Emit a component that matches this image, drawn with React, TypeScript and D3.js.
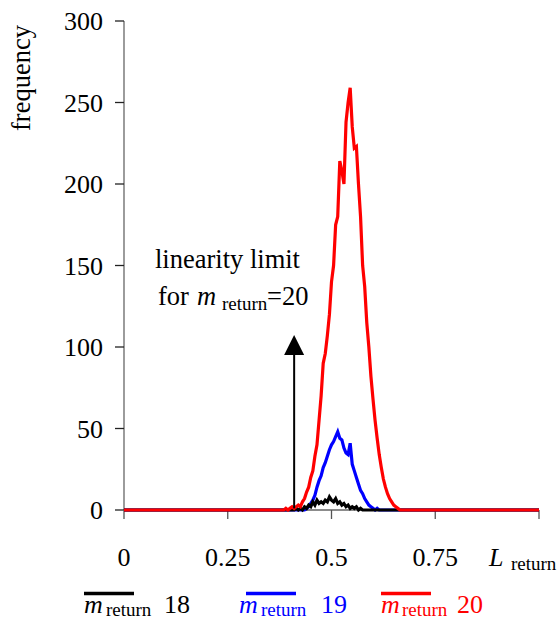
import React from "react";
import * as d3 from "d3";

const L_START = 0.385;
const L_STEP = 0.005;

const redValues = [
  0, 1, 0, 1, 2, 1, 2, 3, 2, 5, 7, 11, 14, 20, 24, 33, 40, 55, 70, 90, 96, 107, 120, 140, 150,
  175, 180, 214, 208, 200, 238, 250, 259, 235, 222, 223, 200, 180, 150, 137, 115, 100, 82, 68, 55,
  44, 34, 26, 19, 14, 10, 7, 5, 3, 2, 1, 0,
];

const BLUE_START = 0.435;
const blueValues = [
  0, 1, 2, 4, 6, 9, 14, 18, 21, 26, 29, 33, 37, 40, 42, 45, 48, 44, 43, 38, 35, 34, 41, 28, 24,
  20, 16, 12, 10, 7, 5, 3, 2, 1, 0, 1, 0,
];

const BLACK_START = 0.405;
const blackValues = [
  0, 0, 1, 0, 1, 0, 2, 1, 3, 2, 5, 3, 6, 4, 5, 4, 6, 5, 8, 6, 5, 7, 4, 5, 3, 4, 2, 3, 1, 2, 1, 2,
  0, 1, 0,
];

const xTicks = [0, 0.25, 0.5, 0.75, 1];
const xTickLabels = ["0", "0.25", "0.5", "0.75", ""];
const yTicks = [0, 50, 100, 150, 200, 250, 300];

const legendItems = [
  { label: "18", color: "#000000" },
  { label: "19", color: "#0000ff" },
  { label: "20", color: "#ff0000" },
];

const FONT = "Liberation Serif";

function toSeries(start: number, values: number[]): [number, number][] {
  const pts: [number, number][] = [[0, 0]];
  values.forEach((v, i) => pts.push([start + i * L_STEP, v]));
  pts.push([1, 0]);
  return pts;
}

function T(props: any) {
  const { size, italic, children, ...rest } = props;
  return (
    <text
      {...rest}
      style={{
        fontFamily: FONT,
        fontSize: size + "px",
        fontStyle: italic ? "italic" : "normal",
      }}
    >
      {children}
    </text>
  );
}

export default function App() {
  const x = d3.scaleLinear().domain([0, 1]).range([124, 539]);
  const y = d3.scaleLinear().domain([0, 300]).range([510, 21]);
  const line = d3
    .line<[number, number]>()
    .x((d) => x(d[0]))
    .y((d) => y(d[1]));

  const series = [
    { data: toSeries(BLUE_START, blueValues), color: "#0000ff" },
    { data: toSeries(BLACK_START, blackValues), color: "#000000" },
    { data: toSeries(L_START, redValues), color: "#ff0000" },
  ];

  const legendLineX = [84, 246, 381];
  const legendMX = [84, 239, 381];
  const legendSubX = [106, 261, 402];
  const legendNumX = [164, 321, 457];

  const arrowX = x(0.41);

  return (
    <svg
      width={559}
      height={620}
      style={{ position: "absolute", left: 0, top: 0, background: "#fff" }}
    >
      {/* y axis */}
      <line x1={x(0)} x2={x(0)} y1={y(300)} y2={y(0)} stroke="#666" strokeWidth={1.3} />
      {yTicks.map((t) => (
        <g key={"y" + t}>
          <line x1={x(0) - 9} x2={x(0)} y1={y(t)} y2={y(t)} stroke="#222" strokeWidth={1.3} />
          <T x={103} y={y(t) + 9} textAnchor="end" size={26} fill="#000">
            {t}
          </T>
        </g>
      ))}
      {/* x axis */}
      <line x1={x(0)} x2={x(1)} y1={y(0)} y2={y(0)} stroke="#666" strokeWidth={1.3} />
      {xTicks.map((t, i) => (
        <g key={"x" + t}>
          <line x1={x(t)} x2={x(t)} y1={y(0)} y2={y(0) + 9} stroke="#555" strokeWidth={1.3} />
          {xTickLabels[i] && (
            <T x={x(t)} y={566} textAnchor="middle" size={26} fill="#000">
              {xTickLabels[i]}
            </T>
          )}
        </g>
      ))}
      <T x={489} y={566} size={26} italic fill="#000">
        L
      </T>
      <T x={511} y={570} size={19} fill="#000">
        return
      </T>

      {/* y label */}
      <T transform={`translate(30,78) rotate(-90)`} textAnchor="middle" size={26.5} fill="#000">
        frequency
      </T>

      {/* series */}
      {series.map((s, i) => (
        <path
          key={i}
          d={line(s.data) || ""}
          fill="none"
          stroke={s.color}
          strokeWidth={3.2}
          strokeLinejoin="miter"
        />
      ))}

      {/* arrow annotation */}
      <line x1={arrowX} x2={arrowX} y1={y(1)} y2={352} stroke="#000" strokeWidth={2} />
      <path d={`M${arrowX},335 L${arrowX + 10},355 L${arrowX - 10},355 Z`} fill="#000" />
      <T x={155} y={268} size={26.5} fill="#000">
        linearity limit
      </T>
      <T x={158} y={305} size={26.5} fill="#000">
        for
      </T>
      <T x={197} y={305} size={26.5} italic fill="#000">
        m
      </T>
      <T x={222} y={310} size={19} fill="#000">
        return
      </T>
      <T x={267} y={305} size={26.5} fill="#000">
        =20
      </T>

      {/* legend */}
      {legendItems.map((item, i) => (
        <g key={"lg" + i}>
          <line
            x1={legendLineX[i]}
            x2={legendLineX[i] + 50}
            y1={593.5}
            y2={593.5}
            stroke={item.color}
            strokeWidth={3.5}
          />
          <T x={legendMX[i]} y={613} size={26} italic fill={item.color}>
            m
          </T>
          <T x={legendSubX[i]} y={616} size={19} fill={item.color}>
            return
          </T>
          <T x={legendNumX[i]} y={613} size={26} fill={item.color}>
            {item.label}
          </T>
        </g>
      ))}
    </svg>
  );
}
